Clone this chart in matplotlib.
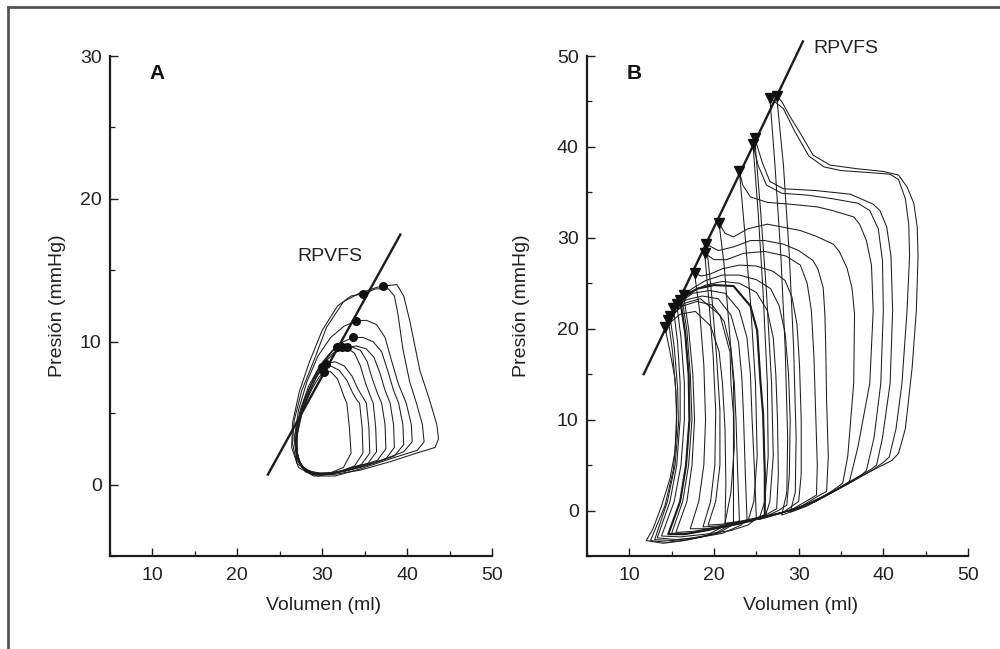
#!/usr/bin/env python3
"""Pressure-volume loops, panels A and B, with the RPVFS line."""

import matplotlib
matplotlib.use("Agg")
import matplotlib.pyplot as plt
from matplotlib.lines import Line2D
from matplotlib.ticker import MultipleLocator

plt.rcParams.update({
    "font.family": ["Liberation Sans Narrow", "Liberation Sans", "DejaVu Sans"],
    "axes.spines.top": False,
    "axes.spines.right": False,
})

INK = "#1c1c1c"
TXT = "#222222"

# ---- panel A ---------------------------------------------------------------
a_line_v = [23.6, 39.2]
a_line_p = [0.7, 17.5]

a_dots_v = [37.2, 34.8, 34.0, 33.6, 32.9, 32.3, 31.7, 30.4, 30.0, 30.2]
a_dots_p = [13.9, 13.35, 11.45, 10.3, 9.6, 9.6, 9.6, 8.45, 8.2, 7.9]

a1 = [(37.2, 13.9), (38.8, 14.0), (39.6, 13.2), (40.3, 11.5), (41.5, 8.0), (42.6, 6.0),
      (43.5, 4.2), (43.7, 3.2), (43.3, 2.6), (41.1, 2.2), (38.0, 1.6), (34.4, 1.0),
      (31.3, 0.7), (28.6, 0.8), (27.0, 1.5), (26.5, 2.9), (26.7, 4.5), (27.6, 6.6),
      (28.9, 8.5), (30.5, 11.0), (32.5, 12.8), (34.4, 13.4), (36.4, 13.8), (37.2, 13.9)]
a2 = [(34.8, 13.35), (36.3, 13.7), (37.8, 13.7), (38.5, 13.2), (38.9, 12.0), (39.5, 9.5),
      (40.3, 7.2), (41.1, 5.7), (41.8, 4.2), (42.0, 3.0), (41.2, 2.4), (38.0, 1.8),
      (34.5, 1.1), (31.5, 0.6), (29.0, 0.6), (27.2, 1.2), (26.4, 2.6), (26.5, 4.3),
      (27.3, 6.5), (28.5, 8.6), (30.0, 10.8), (31.8, 12.5), (33.4, 13.2), (34.8, 13.35)]
a3 = [(34.0, 11.45), (35.2, 11.5), (36.4, 11.2), (37.4, 10.3), (38.2, 8.6), (39.0, 7.0),
      (39.9, 5.7), (40.5, 4.2), (40.6, 3.0), (39.6, 2.3), (36.5, 1.6), (33.0, 1.0),
      (30.2, 0.7), (28.2, 0.9), (27.0, 1.7), (26.7, 3.2), (27.2, 5.2), (28.2, 7.2),
      (29.5, 9.0), (31.0, 10.3), (32.6, 11.1), (34.0, 11.45)]
a4 = [(33.6, 10.3), (34.8, 10.3), (36.0, 10.0), (37.0, 9.3), (37.7, 8.0), (38.4, 6.6),
      (39.0, 5.7), (39.5, 4.2), (39.6, 2.8), (38.5, 2.0), (35.5, 1.4), (32.5, 0.9),
      (29.8, 0.8), (28.0, 1.0), (27.0, 1.9), (26.8, 3.4), (27.4, 5.2), (28.4, 6.9),
      (29.8, 8.4), (31.2, 9.4), (32.5, 10.0), (33.6, 10.3)]
a5 = [(32.9, 9.6), (34.0, 9.7), (35.2, 9.5), (36.1, 8.9), (36.8, 7.8), (37.4, 6.6),
      (38.0, 5.7), (38.4, 4.2), (38.5, 2.6), (37.5, 1.8), (34.5, 1.2), (31.5, 0.8),
      (29.2, 0.8), (27.6, 1.2), (26.9, 2.4), (27.0, 4.0), (27.8, 5.8), (29.0, 7.4),
      (30.5, 8.7), (31.9, 9.4), (32.9, 9.6)]
a6 = [(32.3, 9.6), (33.4, 9.65), (34.5, 9.4), (35.3, 8.6), (35.9, 7.4), (36.5, 6.4),
      (37.0, 5.7), (37.4, 4.2), (37.5, 2.5), (36.5, 1.7), (33.5, 1.1), (30.8, 0.7),
      (28.8, 0.8), (27.4, 1.4), (26.8, 2.8), (27.2, 4.6), (28.2, 6.4), (29.4, 7.9),
      (30.8, 9.0), (32.3, 9.6)]
a7 = [(31.7, 9.6), (32.8, 9.6), (33.8, 9.2), (34.5, 8.3), (35.1, 7.1), (35.6, 6.3),
      (36.0, 5.7), (36.3, 4.0), (36.4, 2.3), (35.4, 1.5), (32.5, 1.0), (30.0, 0.7),
      (28.3, 0.9), (27.2, 1.6), (26.9, 3.0), (27.4, 4.8), (28.4, 6.6), (29.6, 8.1),
      (30.8, 9.1), (31.7, 9.6)]
a8 = [(30.4, 8.45), (31.5, 8.6), (32.6, 8.3), (33.5, 7.6), (34.2, 6.7), (34.8, 6.1),
      (35.2, 5.7), (35.5, 4.0), (35.6, 2.2), (34.6, 1.4), (32.0, 0.9), (29.8, 0.7),
      (28.2, 0.9), (27.2, 1.7), (26.9, 3.1), (27.4, 4.7), (28.3, 6.2), (29.3, 7.5),
      (30.4, 8.45)]
a9 = [(30.0, 8.2), (31.0, 8.3), (32.0, 8.0), (32.9, 7.3), (33.6, 6.4), (34.1, 5.9),
      (34.4, 5.7), (34.7, 4.0), (34.8, 2.2), (33.8, 1.3), (31.5, 0.8), (29.5, 0.6),
      (28.0, 0.9), (27.1, 1.8), (27.0, 3.3), (27.6, 5.0), (28.5, 6.5), (29.3, 7.5),
      (30.0, 8.2)]
a10 = [(30.2, 7.9), (31.0, 7.9), (31.8, 7.4), (32.3, 6.6), (32.6, 6.1), (32.9, 5.7),
       (33.2, 4.0), (33.4, 2.2), (32.5, 1.2), (30.5, 0.7), (28.8, 0.7), (27.6, 1.2),
       (27.0, 2.3), (27.1, 3.8), (27.8, 5.4), (28.8, 6.7), (29.6, 7.5), (30.2, 7.9)]
loops_a = [a1, a2, a3, a4, a5, a6, a7, a8, a9, a10]

# ---- panel B ---------------------------------------------------------------
b_line_v = [11.7, 30.5]
b_line_p = [15.0, 51.6]

b_tri_v = [27.4, 26.6, 24.8, 24.6, 23.0, 20.6, 19.1, 18.9, 17.7, 16.4, 16.0, 15.6, 15.2, 14.8, 14.6, 14.2]
b_tri_p = [45.6, 45.4, 41.0, 40.3, 37.3, 31.6, 29.3, 28.3, 26.1, 23.7, 23.2, 22.7, 22.3, 21.4, 21.0, 20.2]

b1 = [(27.4, 45.6), (28.2, 38.0), (28.9, 28.0), (29.4, 18.0), (29.7, 8.0), (29.6, 2.0),
      (29.0, -0.2), (31.0, 0.5), (34.0, 2.0), (37.0, 3.6), (39.5, 4.8), (41.0, 5.5),
      (41.8, 6.3), (42.6, 9.0), (43.4, 15.7), (43.9, 22.0), (44.1, 28.0), (44.0, 31.2),
      (43.6, 33.8), (42.8, 35.6), (41.8, 36.9), (40.0, 37.3), (36.9, 37.6), (33.7, 38.0),
      (31.7, 39.1), (30.2, 41.5), (29.0, 43.3), (28.0, 45.0), (27.4, 45.6)]
b2 = [(26.6, 45.4), (27.2, 38.0), (27.9, 28.0), (28.4, 18.0), (28.7, 8.0), (28.6, 2.0),
      (28.0, -0.5), (30.0, 0.2), (33.0, 1.5), (36.0, 3.0), (38.8, 4.5), (40.0, 5.3),
      (40.7, 5.9), (41.5, 9.0), (42.2, 14.0), (42.8, 22.0), (43.1, 28.0), (43.0, 31.5),
      (42.6, 34.3), (41.8, 36.4), (40.8, 37.0), (38.0, 37.2), (35.0, 37.4), (33.0, 37.8),
      (31.2, 39.0), (29.6, 41.6), (28.2, 44.2), (26.6, 45.4)]
b3 = [(24.8, 41.0), (25.5, 33.0), (26.2, 24.0), (26.8, 14.0), (27.0, 6.0), (26.6, 1.0),
      (26.0, -0.8), (28.0, -0.2), (31.0, 0.7), (34.0, 2.1), (37.0, 3.7), (38.5, 4.5),
      (39.2, 5.0), (39.9, 8.0), (40.8, 14.0), (41.1, 22.0), (40.9, 28.0), (40.4, 31.2),
      (39.6, 33.0), (38.8, 33.7), (36.1, 34.8), (32.0, 35.2), (28.2, 35.4), (26.6, 36.2),
      (25.7, 38.3), (24.8, 41.0)]
b4 = [(24.6, 40.3), (25.2, 33.0), (25.8, 24.0), (26.3, 14.0), (26.4, 6.0), (26.0, 1.0),
      (25.3, -1.0), (27.5, -0.4), (30.0, 0.3), (33.0, 1.6), (36.0, 3.1), (37.4, 3.9),
      (38.0, 4.4), (38.9, 8.0), (39.7, 14.0), (40.0, 22.0), (39.9, 27.5), (39.4, 31.0),
      (38.4, 33.0), (37.0, 33.8), (34.0, 34.3), (31.0, 34.7), (28.0, 34.9), (26.2, 35.8),
      (25.2, 38.0), (24.6, 40.3)]
b5 = [(23.0, 37.3), (23.6, 31.0), (24.3, 23.0), (24.9, 14.0), (25.1, 6.0), (24.7, 1.0),
      (24.0, -1.2), (26.0, -0.7), (29.0, 0.0), (32.0, 1.0), (34.5, 2.3), (36.0, 3.2),
      (37.0, 7.0), (38.4, 14.0), (38.8, 22.0), (38.6, 27.0), (38.0, 29.7), (37.2, 31.5),
      (36.5, 32.3), (34.0, 33.0), (32.2, 33.4), (29.0, 33.7), (26.3, 33.9), (24.3, 34.5),
      (23.4, 35.8), (23.0, 37.3)]
b6 = [(20.6, 31.6), (21.2, 27.0), (21.8, 20.0), (22.3, 14.0), (22.4, 7.0), (22.0, 2.0),
      (21.3, -1.4), (23.0, -1.2), (26.0, -0.6), (29.0, 0.0), (32.0, 1.0), (34.0, 2.2),
      (35.2, 3.0), (35.8, 6.0), (36.5, 14.0), (36.6, 21.6), (36.3, 24.5), (35.7, 26.7),
      (34.8, 28.5), (34.1, 29.3), (32.0, 30.2), (30.2, 30.8), (28.0, 31.2), (26.3, 31.5),
      (24.0, 31.0), (22.3, 30.1), (21.3, 30.5), (20.6, 31.6)]
b7 = [(19.1, 29.3), (19.7, 24.0), (20.3, 17.0), (20.7, 11.0), (20.7, 5.0), (20.2, 1.0),
      (19.3, -1.6), (21.0, -1.5), (24.0, -1.1), (27.0, -0.5), (30.0, 0.3), (32.3, 1.6),
      (33.3, 2.1), (33.5, 6.0), (33.3, 12.0), (33.2, 17.9), (33.1, 21.5), (32.9, 24.5),
      (32.3, 26.5), (31.7, 27.5), (30.0, 28.6), (28.2, 29.3), (26.0, 29.7), (24.3, 29.7),
      (22.3, 29.0), (20.5, 28.6), (19.1, 29.3)]
b8 = [(18.9, 28.3), (19.4, 23.0), (19.9, 17.0), (20.2, 11.0), (20.1, 5.0), (19.6, 1.0),
      (18.7, -1.8), (20.5, -1.7), (23.0, -1.3), (26.0, -0.7), (29.0, 0.0), (31.2, 1.2),
      (32.1, 1.7), (32.2, 5.0), (32.0, 11.0), (31.8, 17.0), (31.5, 22.0), (31.0, 25.0),
      (30.2, 27.0), (28.5, 28.0), (26.0, 28.5), (23.5, 28.3), (21.5, 27.6), (20.0, 27.6),
      (18.9, 28.3)]
b9 = [(17.7, 26.1), (18.3, 22.0), (18.8, 16.0), (19.0, 10.0), (18.8, 5.0), (18.2, 1.0),
      (17.2, -2.0), (19.0, -2.0), (22.0, -1.6), (25.0, -1.0), (28.0, -0.3), (30.0, 1.0),
      (30.3, 4.0), (30.3, 10.0), (30.1, 16.0), (29.8, 20.5), (29.2, 23.5), (28.4, 25.3),
      (27.0, 26.3), (25.0, 26.9), (23.0, 27.0), (21.0, 26.6), (19.5, 26.0), (18.5, 25.8),
      (17.7, 26.1)]
b10 = [(16.4, 23.7), (17.0, 20.0), (17.5, 15.0), (17.7, 10.0), (17.4, 5.0), (16.8, 1.0),
       (15.5, -2.4), (17.5, -2.3), (20.0, -1.9), (23.0, -1.4), (26.0, -0.7), (27.6, 0.0),
       (28.6, 0.6), (28.9, 4.0), (29.0, 10.0), (28.8, 15.0), (28.4, 19.5), (27.7, 22.5),
       (26.7, 24.4), (25.0, 25.4), (23.0, 25.9), (21.0, 25.9), (19.0, 25.3), (17.4, 24.4),
       (16.4, 23.7)]
b11 = [(16.2, 23.5), (16.8, 19.8), (17.2, 15.0), (17.4, 10.0), (17.0, 5.0), (16.3, 1.0),
       (15.0, -2.5), (17.0, -2.5), (20.0, -2.0), (23.0, -1.5), (25.5, -0.8), (27.4, 0.2),
       (27.6, 4.0), (27.5, 10.0), (27.3, 15.0), (27.0, 19.0), (26.3, 22.0), (25.0, 24.0),
       (23.0, 25.0), (21.0, 25.2), (19.0, 24.8), (17.3, 24.1), (16.2, 23.5)]
b12 = [(16.0, 23.2), (16.6, 19.5), (17.0, 15.0), (17.1, 10.0), (16.7, 5.0), (16.0, 1.0),
       (14.6, -2.6), (16.5, -2.6), (19.0, -2.2), (22.0, -1.6), (24.5, -1.1), (26.0, -0.5),
       (26.0, 4.0), (25.8, 10.6), (25.5, 14.0), (25.1, 19.8), (24.3, 22.5), (22.3, 24.7),
       (20.0, 24.8), (18.0, 24.4), (16.0, 23.2)]
b13 = [(15.6, 22.7), (16.1, 19.0), (16.5, 14.0), (16.5, 10.0), (16.1, 5.0), (15.3, 1.0),
       (13.8, -2.8), (16.0, -2.9), (19.0, -2.6), (22.0, -2.2), (24.0, -1.6), (25.0, -0.9),
       (24.8, 4.0), (24.5, 10.0), (24.3, 15.0), (23.9, 19.0), (23.0, 22.0), (21.3, 23.9),
       (19.5, 24.2), (17.5, 23.9), (15.6, 22.7)]
b14 = [(15.2, 22.3), (15.7, 18.5), (16.0, 14.0), (16.0, 10.0), (15.6, 5.0), (14.8, 1.0),
       (13.3, -3.0), (15.5, -3.2), (18.0, -3.0), (21.0, -2.5), (23.2, -1.6), (23.9, -1.0),
       (23.7, 4.0), (23.5, 10.0), (23.3, 14.5), (22.9, 18.5), (22.0, 21.5), (20.5, 23.3),
       (18.6, 23.6), (16.8, 23.2), (15.2, 22.3)]
b15 = [(14.8, 21.4), (15.3, 18.0), (15.7, 13.5), (15.8, 9.5), (15.4, 5.0), (14.5, 1.0),
       (13.0, -3.2), (15.0, -3.3), (17.5, -3.0), (20.5, -2.5), (22.3, -1.5), (23.0, -1.1),
       (22.8, 4.0), (22.6, 10.0), (22.4, 14.0), (22.0, 17.8), (21.2, 20.8), (19.8, 22.6),
       (18.0, 23.0), (16.3, 22.5), (14.8, 21.4)]
b16 = [(14.6, 21.0), (15.1, 17.5), (15.5, 13.0), (15.6, 9.0), (15.2, 4.5), (14.2, 0.5),
       (12.5, -3.3), (14.5, -3.5), (17.0, -3.2), (20.0, -2.6), (21.6, -1.7), (22.3, -1.3),
       (22.3, 4.0), (22.3, 10.6), (22.0, 14.0), (21.9, 17.4), (20.7, 21.5), (18.4, 23.3),
       (16.5, 22.8), (14.6, 21.0)]
b17 = [(14.2, 20.2), (14.8, 17.5), (15.4, 14.5), (15.6, 11.0), (15.4, 6.5), (14.8, 3.5),
       (13.8, 0.5), (12.8, -2.0), (12.0, -3.3), (14.0, -3.6), (16.5, -3.3), (19.0, -2.8),
       (20.6, -2.0), (21.3, -1.6), (21.4, 3.0), (21.3, 9.0), (21.0, 14.0), (20.6, 17.5),
       (19.6, 20.3), (17.8, 21.9), (16.0, 21.6), (14.2, 20.2)]
loops_b = [b1, b2, b3, b4, b5, b6, b7, b8, b9, b10, b11, b12, b13, b14, b15, b16, b17]
bold_b = [b12]

x_ticks = [10, 20, 30, 40, 50]


def style_axes(ax, ylim, yticks):
    ax.set_xlim(5, 50)
    ax.set_ylim(*ylim)
    ax.set_xticks(x_ticks)
    ax.set_yticks(yticks)
    ax.xaxis.set_minor_locator(MultipleLocator(5))
    ax.yaxis.set_minor_locator(MultipleLocator(5))
    for side in ("left", "bottom"):
        ax.spines[side].set_linewidth(1.6)
        ax.spines[side].set_color(INK)
    ax.tick_params(which="major", direction="in", length=6, width=1.0,
                   labelsize=14, colors=INK, labelcolor=TXT)
    ax.tick_params(axis="x", which="major", pad=8)
    ax.tick_params(axis="y", which="major", pad=6)
    ax.tick_params(which="minor", direction="in", length=3.5, width=0.9, colors=INK)
    ax.set_xlabel("Volumen (ml)", fontsize=14, color=TXT)
    ax.set_ylabel("Presión (mmHg)", fontsize=14, color=TXT)
    ax.xaxis.set_label_coords(0.56, -0.082)


def draw_loops(ax, loops, lw):
    for loop in loops:
        ax.plot([p[0] for p in loop], [p[1] for p in loop], color=INK, lw=lw,
                solid_joinstyle="round")


fig = plt.figure(figsize=(10, 6.49), dpi=100)

# panel A
ax_a = fig.add_axes([0.110, 0.1433, 0.382, 0.7704])
style_axes(ax_a, (-5, 30), [0, 10, 20, 30])
ax_a.yaxis.set_label_coords(-0.115, 0.5)
draw_loops(ax_a, loops_a, 0.75)
ax_a.plot(a_line_v, a_line_p, color=INK, lw=1.7)
ax_a.plot(a_dots_v, a_dots_p, "o", color="#111111", ms=5.5, ls="none")
ax_a.text(30.9, 16.0, "RPVFS", fontsize=14, ha="center", va="center", color=TXT)
ax_a.text(10.5, 28.8, "A", fontsize=15, fontweight="bold", ha="center", va="center",
          color="#111111")

# panel B
ax_b = fig.add_axes([0.587, 0.1433, 0.381, 0.7704])
style_axes(ax_b, (-5, 50), [0, 10, 20, 30, 40, 50])
ax_b.yaxis.set_label_coords(-0.150, 0.5)
draw_loops(ax_b, loops_b, 0.75)
draw_loops(ax_b, bold_b, 1.5)
ax_b.plot(b_line_v, b_line_p, color=INK, lw=1.7, clip_on=False)
ax_b.plot(b_tri_v, b_tri_p, "v", color="#111111", ms=7, ls="none")
ax_b.text(31.7, 50.8, "RPVFS", fontsize=14, ha="left", va="center", color=TXT)
ax_b.text(10.6, 48.1, "B", fontsize=15, fontweight="bold", ha="center", va="center",
          color="#111111")

# outer frame (top and left edges visible)
fig.add_artist(Line2D([0.008, 0.008], [0.0, 1 - 7 / 649], transform=fig.transFigure,
                      color="#555555", lw=2))
fig.add_artist(Line2D([0.008, 1.0], [1 - 7 / 649, 1 - 7 / 649], transform=fig.transFigure,
                      color="#555555", lw=2))

fig.savefig("out.png", dpi=100, facecolor="white")
